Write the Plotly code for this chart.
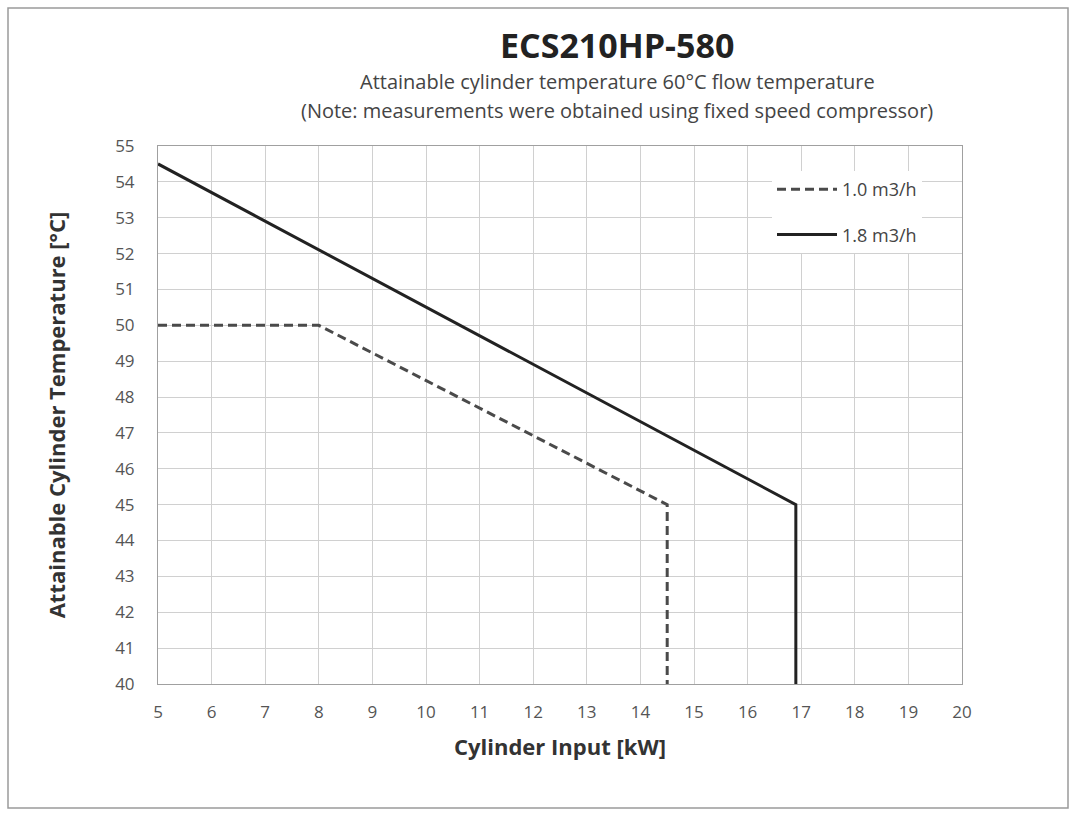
import plotly.graph_objects as go

# Data
x_10 = [5, 8, 14.5, 14.5]
y_10 = [50, 50, 45, 40]
x_18 = [5, 16.9, 16.9]
y_18 = [54.5, 45, 40]
names = ["1.0 m3/h", "1.8 m3/h"]
x_ticks = list(range(5, 21))
y_ticks = list(range(40, 56))

FONT = "'Open Sans', sans-serif"

fig = go.Figure()
fig.add_trace(go.Scatter(x=x_10, y=y_10, mode="lines", name=names[0], legendgroup="a",
                         line=dict(color="#4a4a4a", width=3, dash="9px,5px")))
fig.add_trace(go.Scatter(x=x_18, y=y_18, mode="lines", name=names[1], legendgroup="b",
                         line=dict(color="#222222", width=3)))

L, R, T, B = 158, 114, 146, 136
W, H = 1076, 820
pw, ph = W - L - R, H - T - B

def px(xp):
    return (xp - L) / pw

def py(yp):
    return (H - B - yp) / ph

fig.update_layout(
    width=W, height=H,
    margin=dict(l=L, r=R, t=T, b=B),
    paper_bgcolor="white", plot_bgcolor="white",
    font=dict(family=FONT, color="#333333"),
    showlegend=True,
    legend=dict(x=px(772), y=py(171), xanchor="left", yanchor="top",
                bgcolor="white", font=dict(size=18, color="#444444"),
                tracegroupgap=19, itemwidth=60),
    xaxis=dict(range=[5, 20], tickvals=x_ticks, showgrid=True,
               gridcolor="#d0d0d0", gridwidth=1, zeroline=False,
               showline=True, linecolor="#a0a0a0", linewidth=1, mirror=True,
               tickfont=dict(size=17, color="#555555"), ticks="",
               ticklabelstandoff=13,
               title=dict(text="<b>Cylinder Input [kW]</b>",
                          font=dict(size=22, color="#333333"), standoff=17)),
    yaxis=dict(range=[40, 55], tickvals=y_ticks, showgrid=True,
               gridcolor="#d0d0d0", gridwidth=1, zeroline=False,
               showline=True, linecolor="#a0a0a0", linewidth=1, mirror=True,
               tickfont=dict(size=17, color="#555555"), ticks="",
               ticklabelstandoff=19,
               title=dict(text="<b>Attainable Cylinder Temperature [°C]</b>",
                          font=dict(size=22, color="#333333"), standoff=43)),
)

cx = px(617)
fig.add_annotation(text="<b>ECS210HP-580</b>", x=cx, y=py(45), xref="paper", yref="paper",
                   xanchor="center", yanchor="middle",
                   showarrow=False, font=dict(size=34, color="#222222"))
fig.add_annotation(text="Attainable cylinder temperature 60°C flow temperature",
                   x=cx, y=py(81), xref="paper", yref="paper",
                   xanchor="center", yanchor="middle",
                   showarrow=False, font=dict(size=20, color="#444444"))
fig.add_annotation(text="(Note: measurements were obtained using fixed speed compressor)",
                   x=cx, y=py(111), xref="paper", yref="paper",
                   xanchor="center", yanchor="middle",
                   showarrow=False, font=dict(size=20, color="#444444"))

fig.add_shape(type="rect", xref="paper", yref="paper",
              x0=px(8), x1=px(1068), y0=py(808), y1=py(8),
              line=dict(color="#9a9a9a", width=1.5), fillcolor="rgba(0,0,0,0)",
              layer="below")

fig.write_html("out.html")
